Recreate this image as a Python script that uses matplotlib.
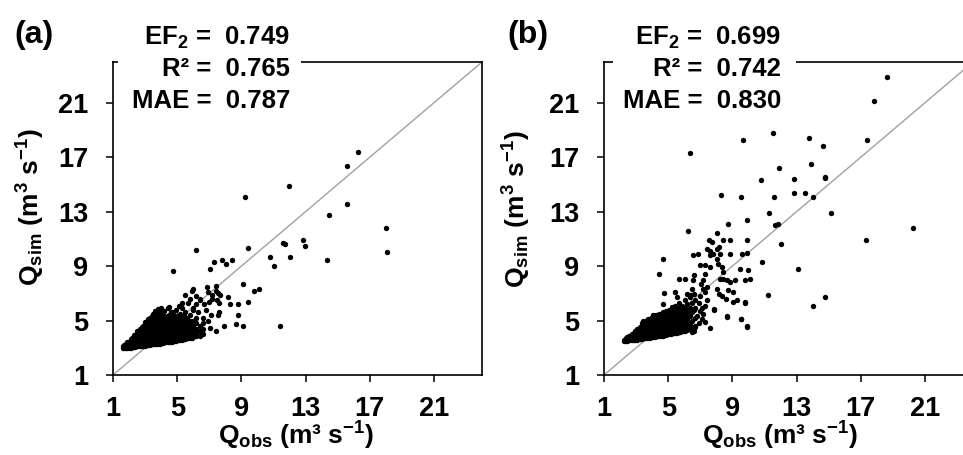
import numpy as np
import matplotlib.pyplot as plt
from matplotlib.patches import Rectangle

plt.rcParams['font.family'] = ['Liberation Sans', 'DejaVu Sans']
plt.rcParams['font.weight'] = 'bold'
plt.rcParams['axes.labelweight'] = 'bold'
plt.rcParams['mathtext.fontset'] = 'custom'
plt.rcParams['mathtext.rm'] = 'Liberation Sans:bold'
plt.rcParams['mathtext.it'] = 'Liberation Sans:bold'
plt.rcParams['mathtext.bf'] = 'Liberation Sans:bold'
plt.rcParams['mathtext.sf'] = 'Liberation Sans:bold'

ticks = [1, 5, 9, 13, 17, 21]
panel_labels = ['(a)', '(b)']
stats_a = ['EF$_2$ =  0.749', 'R² =  0.765', 'MAE =  0.787']
stats_b = ['EF$_2$ =  0.699', 'R² =  0.742', 'MAE =  0.830']

# dense low-flow cloud, (Q_obs, [Q_sim ...]) read column by column
cloud_a = [
    (1.6, [2.95, 3.1]), (1.7, [2.95, 3.1, 3.2]), (1.8, [2.95, 3.1, 3.25]),
    (1.9, [3.0, 3.15, 3.3, 3.45]), (2.0, [3.0, 3.15, 3.3, 3.45]),
    (2.1, [3.0, 3.15, 3.3, 3.5, 3.65]), (2.2, [3.05, 3.2, 3.35, 3.55, 3.7]),
    (2.3, [3.05, 3.2, 3.4, 3.6, 3.8, 3.95]), (2.4, [3.05, 3.25, 3.45, 3.65, 3.85]),
    (2.5, [3.1, 3.25, 3.45, 3.65, 3.85, 4.05, 4.2]),
    (2.6, [3.1, 3.3, 3.5, 3.7, 3.9, 4.1]),
    (2.7, [3.1, 3.3, 3.5, 3.7, 3.95, 4.2, 4.4]),
    (2.8, [3.15, 3.35, 3.55, 3.75, 4.0, 4.25, 4.55]),
    (2.9, [3.15, 3.35, 3.55, 3.8, 4.05, 4.3, 4.6]),
    (3.0, [3.15, 3.35, 3.6, 3.85, 4.1, 4.4, 4.55, 4.7, 4.9]),
    (3.1, [3.2, 3.4, 3.6, 3.85, 4.1, 4.4, 4.75]),
    (3.2, [3.2, 3.4, 3.65, 3.9, 4.15, 4.45, 4.6, 4.8, 4.95, 5.1]),
    (3.3, [3.2, 3.45, 3.7, 3.95, 4.2, 4.5, 4.85, 5.2]),
    (3.4, [3.25, 3.45, 3.7, 3.95, 4.25, 4.55, 4.7, 4.9, 5.1, 5.35]),
    (3.5, [3.25, 3.5, 3.75, 4.0, 4.3, 4.6, 5.0, 5.5]),
    (3.6, [3.25, 3.5, 3.75, 4.05, 4.35, 4.65, 4.85, 5.05, 5.35, 5.7]),
    (3.7, [3.3, 3.55, 3.8, 4.1, 4.4, 4.7, 5.1, 5.4]),
    (3.8, [3.3, 3.55, 3.85, 4.1, 4.45, 4.6, 4.8, 5.0, 5.25, 5.5, 5.85]),
    (3.9, [3.3, 3.6, 3.85, 4.15, 4.5, 4.85, 5.3]),
    (4.0, [3.35, 3.6, 3.9, 4.2, 4.5, 4.7, 4.9, 5.15, 5.4, 5.65, 5.95]),
    (4.1, [3.35, 3.65, 3.95, 4.25, 4.6, 5.0, 5.5]),
    (4.2, [3.4, 3.65, 3.95, 4.3, 4.45, 4.65, 4.85, 5.1, 5.35, 5.7]),
    (4.3, [3.4, 3.7, 4.0, 4.35, 4.7, 5.2]),
    (4.4, [3.4, 3.7, 4.05, 4.4, 4.6, 4.8, 5.05, 5.3, 5.9]),
    (4.5, [3.45, 3.75, 4.05, 4.4, 4.85, 5.4, 6.0]),
    (4.6, [3.45, 3.75, 4.1, 4.3, 4.5, 4.7, 4.9, 5.2, 5.6]),
    (4.7, [3.45, 3.8, 4.15, 4.55, 5.0, 5.6]),
    (4.8, [3.5, 3.8, 4.0, 4.2, 4.4, 4.6, 4.85, 5.1, 5.4]),
    (4.9, [3.5, 3.85, 4.25, 4.65, 5.2, 5.8]),
    (5.0, [3.55, 3.75, 3.9, 4.1, 4.3, 4.5, 4.7, 5.0, 5.3]),
    (5.1, [3.55, 3.9, 4.3, 4.75, 5.4, 6.1]),
    (5.2, [3.6, 3.8, 3.95, 4.15, 4.35, 4.6, 4.8, 5.1, 5.5]),
    (5.3, [3.6, 4.0, 4.4, 4.9, 5.9]),
    (5.4, [3.65, 3.85, 4.0, 4.2, 4.45, 4.7, 5.0, 5.3]),
    (5.5, [3.65, 4.05, 4.5, 5.1, 5.6]),
    (5.6, [3.7, 3.9, 4.1, 4.3, 4.55, 4.85, 5.2]),
    (5.7, [3.7, 4.1, 4.6, 6.3]),
    (5.8, [3.75, 3.95, 4.15, 4.4, 4.7, 5.0, 5.4]),
    (5.9, [3.75, 4.2, 4.8]),
    (6.0, [3.8, 4.05, 4.3, 4.6, 5.0, 5.8]),
    (6.2, [3.85, 4.1, 4.4, 4.8, 5.2, 6.2]),
    (6.4, [3.9, 4.25, 4.6, 6.5]),
    (6.6, [4.0, 4.4, 4.8]),
]
scatter_a = [
    (16.29, 17.41), (15.6, 16.34), (11.98, 14.88), (9.21, 14.07), (15.6, 13.54),
    (14.48, 12.73), (18.02, 11.8), (18.1, 10.07), (6.15, 10.22), (9.44, 10.34),
    (12.85, 10.9), (12.96, 10.49), (11.6, 10.73), (11.7, 10.61), (10.81, 9.68),
    (12.06, 9.68), (11.02, 9.02), (14.35, 9.44), (4.73, 8.63), (7.27, 9.29),
    (7.06, 8.76), (7.81, 9.44), (8.06, 9.15), (8.4, 9.44), (9.1, 7.68),
    (9.77, 7.15), (10.13, 7.29), (9.44, 6.34), (8.77, 6.22), (8.19, 6.76),
    (8.31, 6.22), (8.77, 5.41), (8.65, 4.76), (9.1, 4.61), (11.4, 4.61),
    (7.94, 4.61), (7.4, 4.2), (7.02, 4.44), (6.56, 4.07), (5.9, 7.17),
    (6.85, 7.44), (7.4, 7.54), (7.52, 7.0), (7.6, 6.27), (7.6, 5.66),
    (7.52, 5.41), (6.9, 7.1), (7.2, 6.9), (7.45, 7.2), (7.2, 6.6),
    (7.0, 6.4), (6.7, 6.2), (6.4, 6.6), (6.2, 6.8), (6.0, 7.3),
    (7.65, 6.9), (7.5, 6.5), (6.8, 5.8), (6.6, 5.2), (6.9, 5.0),
    (6.3, 5.6), (7.1, 5.4), (6.0, 5.9), (5.8, 6.6), (5.5, 6.9), (5.3, 6.3),
]

cloud_b = [
    (2.25, [3.5, 3.6]), (2.35, [3.5, 3.6, 3.7]), (2.45, [3.5, 3.6, 3.7, 3.8]),
    (2.55, [3.55, 3.65, 3.75, 3.85]), (2.65, [3.55, 3.65, 3.8, 3.9]),
    (2.75, [3.55, 3.7, 3.85, 4.0]), (2.85, [3.6, 3.7, 3.85, 4.0, 4.1]),
    (2.95, [3.6, 3.75, 3.9, 4.05, 4.2]), (3.05, [3.6, 3.75, 3.9, 4.05, 4.2, 4.35]),
    (3.15, [3.65, 3.8, 3.95, 4.1, 4.25, 4.4]),
    (3.25, [3.65, 3.8, 3.95, 4.15, 4.3, 4.5]),
    (3.35, [3.65, 3.8, 4.0, 4.2, 4.4, 4.6, 4.85]),
    (3.45, [3.7, 3.85, 4.05, 4.25, 4.45, 4.65, 5.0]),
    (3.55, [3.7, 3.85, 4.05, 4.25, 4.45, 4.7]),
    (3.65, [3.7, 3.9, 4.1, 4.3, 4.5, 4.75, 5.0]),
    (3.75, [3.75, 3.95, 4.15, 4.35, 4.55, 4.8, 5.1]),
    (3.85, [3.75, 3.95, 4.15, 4.35, 4.6, 4.85]),
    (3.95, [3.8, 4.0, 4.2, 4.4, 4.65, 4.9, 5.2]),
    (4.05, [3.8, 4.0, 4.2, 4.45, 4.7, 4.95, 5.35]),
    (4.15, [3.8, 4.05, 4.25, 4.5, 4.75, 5.0]),
    (4.25, [3.85, 4.05, 4.3, 4.55, 4.8, 5.05, 5.4]),
    (4.35, [3.85, 4.1, 4.35, 4.6, 4.85, 5.1]),
    (4.45, [3.9, 4.1, 4.35, 4.6, 4.9, 5.15, 5.5]),
    (4.55, [3.9, 4.15, 4.4, 4.65, 4.9, 5.2]),
    (4.65, [3.9, 4.15, 4.4, 4.7, 4.95, 5.25, 5.6]),
    (4.75, [3.95, 4.2, 4.45, 4.75, 5.0, 5.3]),
    (4.85, [3.95, 4.2, 4.5, 4.8, 5.05, 5.35, 5.7]),
    (4.95, [4.0, 4.25, 4.5, 4.8, 5.1, 5.4]),
    (5.05, [4.0, 4.25, 4.55, 4.85, 5.15, 5.45, 5.8]),
    (5.15, [4.0, 4.3, 4.6, 4.9, 5.2, 5.5]),
    (5.25, [4.05, 4.3, 4.6, 4.9, 5.25, 5.6, 6.0]),
    (5.35, [4.05, 4.35, 4.65, 4.95, 5.3, 5.65]),
    (5.45, [4.1, 4.4, 4.7, 5.0, 5.35, 5.7, 6.1]),
    (5.55, [4.1, 4.4, 4.7, 5.05, 5.4, 5.8]),
    (5.65, [4.15, 4.45, 4.75, 5.1, 5.45, 5.9, 6.3]),
    (5.75, [4.15, 4.5, 4.8, 5.15, 5.5]),
    (5.85, [4.2, 4.5, 4.85, 5.2, 5.6, 6.1]),
    (5.95, [4.2, 4.55, 4.9, 5.3, 5.7]),
    (6.05, [4.25, 4.6, 5.0, 5.4, 5.9, 6.5]),
    (6.2, [4.3, 4.7, 5.1, 5.6, 6.2]),
    (6.35, [4.4, 4.8, 5.3, 5.9, 6.9]),
    (6.5, [4.5, 5.0, 5.6, 6.3]),
    (6.7, [4.6, 5.2, 5.9]),
]
scatter_b = [
    (18.65, 22.93), (17.86, 21.17), (17.41, 18.24), (20.23, 11.82), (17.3, 10.91),
    (11.51, 18.78), (9.64, 18.24), (13.75, 18.39), (14.67, 17.85), (6.36, 17.31),
    (13.88, 16.51), (11.92, 16.24), (14.75, 15.5), (14.8, 15.55), (10.8, 15.31),
    (12.84, 15.43), (12.84, 14.38), (13.54, 14.38), (14.0, 14.09), (11.59, 14.09),
    (8.27, 14.26), (9.56, 14.09), (11.26, 12.92), (9.89, 12.36), (15.12, 12.89),
    (11.65, 11.99), (11.82, 12.06), (8.75, 12.09), (6.25, 11.57), (12.05, 10.62),
    (8.06, 11.43), (7.56, 10.94), (7.71, 10.77), (8.39, 10.89), (8.85, 10.89),
    (9.89, 10.89), (8.19, 10.4), (8.02, 10.28), (7.4, 10.28), (7.6, 10.1),
    (8.23, 9.9), (7.81, 9.86), (8.02, 9.55), (8.85, 9.91), (9.58, 9.91),
    (9.89, 9.96), (10.82, 9.28), (4.66, 9.52), (6.52, 9.79), (6.84, 9.91),
    (7.6, 9.79), (6.98, 9.06), (7.3, 9.06), (7.6, 8.94), (8.12, 9.18),
    (8.33, 8.94), (8.44, 8.57), (9.48, 8.81), (10.0, 8.74), (4.45, 8.45),
    (5.69, 8.03), (6.05, 8.03), (6.6, 8.33), (6.57, 7.96), (7.3, 8.45),
    (7.19, 7.96), (8.23, 8.08), (8.44, 8.08), (8.64, 7.96), (8.85, 7.84),
    (9.16, 7.96), (9.79, 7.96), (10.1, 8.08), (7.04, 7.72), (7.19, 7.35),
    (7.44, 7.47), (7.3, 7.1), (6.46, 7.35), (6.6, 6.98), (6.36, 6.74),
    (6.15, 6.98), (5.42, 7.1), (5.53, 6.74), (4.76, 7.03), (8.02, 7.35),
    (8.19, 6.98), (8.33, 6.79), (8.6, 6.62), (8.75, 7.23), (9.06, 7.1),
    (9.27, 6.49), (9.02, 6.37), (9.79, 6.37), (11.24, 6.86), (4.66, 6.25),
    (6.9, 6.3), (7.1, 5.9), (7.3, 6.1), (7.0, 5.7), (7.4, 6.5),
    (7.88, 5.76), (8.64, 5.27), (9.52, 5.08), (9.89, 4.54), (7.08, 5.15),
    (7.6, 4.42), (6.67, 4.54), (6.46, 4.17), (4.07, 5.4), (3.66, 5.03),
    (13.1, 8.77), (14.79, 6.76), (14.0, 6.08), (9.56, 5.15), (9.89, 4.61),
    (9.8, 6.32), (8.64, 5.3), (7.85, 5.84), (6.61, 4.2),
    (6.8, 5.3), (6.9, 4.8), (7.2, 5.5), (7.0, 6.8), (6.7, 6.5), (6.6, 5.8), (7.3, 4.9),
]


def collect(cloud, scatter):
    obs = [x for x, ys in cloud for _ in ys] + [p[0] for p in scatter]
    sim = [y for _, ys in cloud for y in ys] + [p[1] for p in scatter]
    return np.array(obs), np.array(sim)


fig = plt.figure(figsize=(9.63, 4.55), dpi=100)
ax_a = fig.add_axes([113 / 963, 80 / 455, 369 / 963, 313 / 455])
ax_b = fig.add_axes([604 / 963, 80 / 455, 369 / 963, 313 / 455])

panels = [
    (ax_a, cloud_a, scatter_a, stats_a, panel_labels[0], 0.014, (0.495, -0.142), (-0.179, 0.535)),
    (ax_b, cloud_b, scatter_b, stats_b, panel_labels[1], 0.024, (0.478, -0.142), (-0.192, 0.530)),
]

for ax, cloud, scatter, stats, lab, box_x, xlab_pos, ylab_pos in panels:
    obs, sim = collect(cloud, scatter)
    ax.plot([1, 24], [1, 24], color='#a0a0a0', lw=1.0, zorder=1)
    ax.scatter(obs, sim, s=15, color='black', linewidths=0, zorder=2)
    ax.set_xlim(1, 24)
    ax.set_ylim(1, 24)
    ax.set_xticks(ticks)
    ax.set_yticks(ticks)
    ax.tick_params(direction='out', length=5, width=1.1, labelsize=19.5)
    ax.tick_params(axis='x', pad=10)
    ax.tick_params(axis='y', pad=13)
    for s in ax.spines.values():
        s.set_linewidth(1.2)
    ax.set_xlabel('Q$_{obs}$ (m³ s$^{-1}$)', fontsize=19, fontweight='bold')
    ax.set_ylabel('Q$_{sim}$ (m$^3$ s$^{-1}$)', fontsize=19, fontweight='bold')
    ax.xaxis.set_label_coords(*xlab_pos)
    ax.yaxis.set_label_coords(*ylab_pos)

    # white patch behind the goodness-of-fit numbers (covers the top spine)
    ax.add_patch(Rectangle((box_x, 0.82), 0.495, 0.3, transform=ax.transAxes,
                           facecolor='white', edgecolor='none', clip_on=False,
                           zorder=5))
    for txt, yy in zip(stats, [1.054, 0.955, 0.853]):
        ax.text(0.48, yy, txt, transform=ax.transAxes, ha='right', va='baseline',
                fontsize=18.5, fontweight='bold', zorder=6, clip_on=False)

    ax.text(-0.268 if ax is ax_a else -0.263, 1.087, lab, transform=ax.transAxes,
            ha='left', va='center', fontsize=23, fontweight='bold')

fig.savefig('out.png', dpi=100)
